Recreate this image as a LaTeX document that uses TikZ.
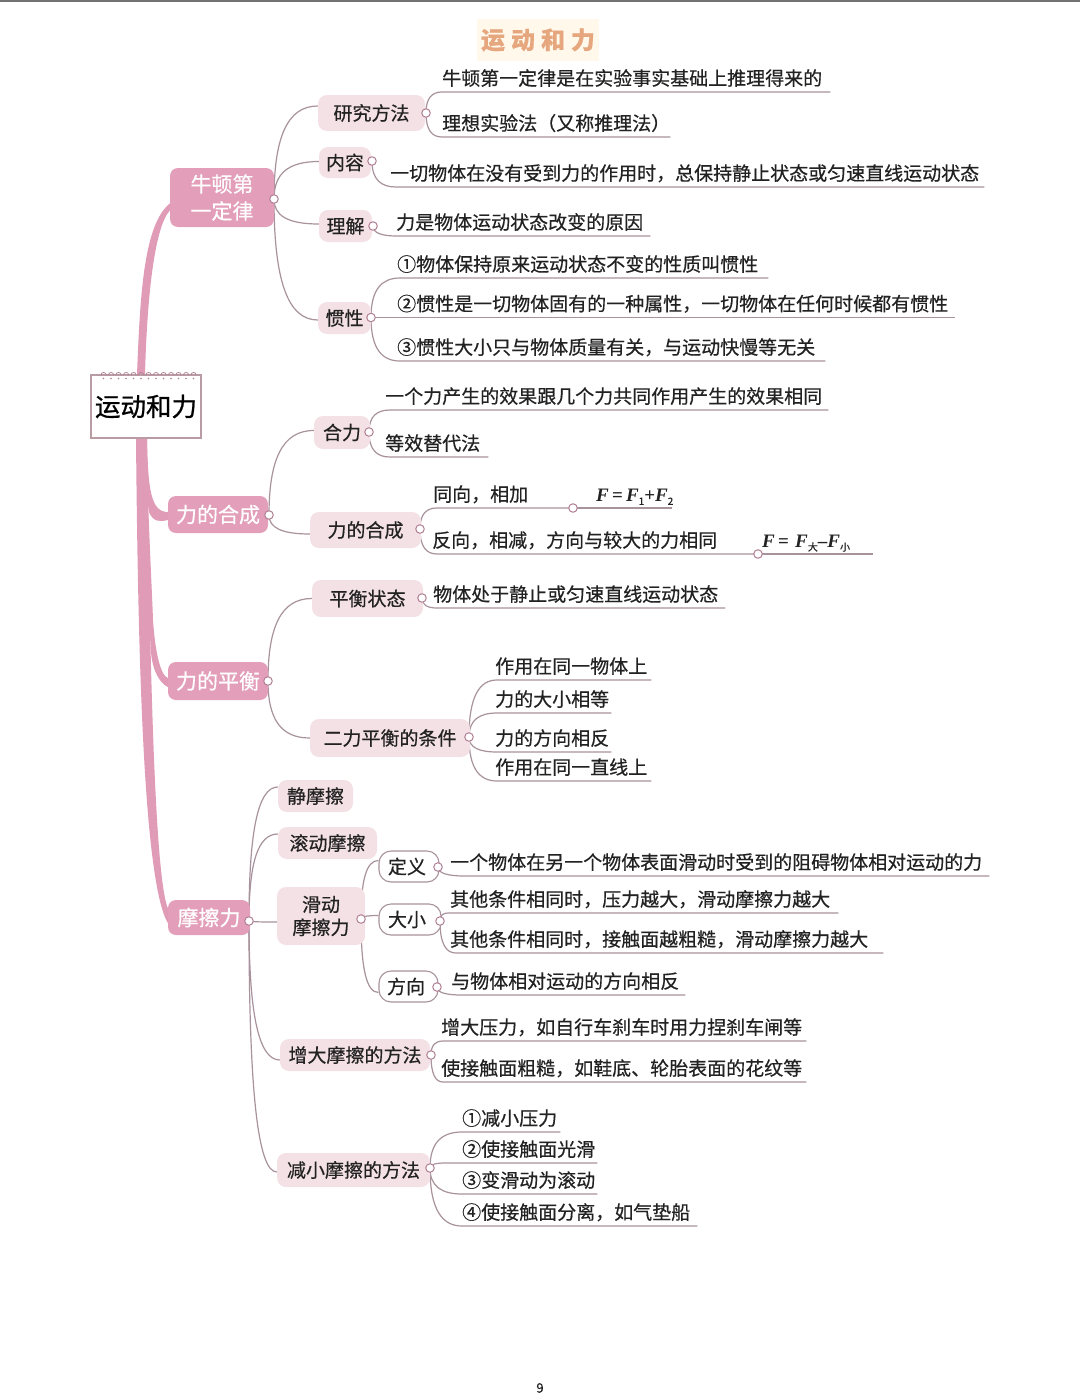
\documentclass[tikz,border=0pt]{standalone}
\usepackage{fontspec}
\setmainfont{Noto Sans CJK SC}[FakeBold=0.5]
\newfontfamily\fmfont{Liberation Serif}
\newfontfamily\rootfont{Noto Sans CJK SC}[FakeBold=0.9]
\usetikzlibrary{calc}
\definecolor{spine}{HTML}{E09BB7}
\definecolor{mainfill}{HTML}{E39EBA}
\definecolor{subfill}{HTML}{F4E1E6}
\definecolor{linec}{HTML}{A8929C}
\definecolor{portc}{HTML}{B07F93}
\definecolor{inkc}{HTML}{222222}
\definecolor{titlec}{HTML}{E6A77E}
\definecolor{titlebg}{HTML}{FFF8EB}
\pgfdeclarelayer{bg}
\pgfsetlayers{bg,main}
\tikzset{
  x=1pt,y=-1pt,
  conn/.style={draw=linec,line width=1.2pt},
  portdot/.style={circle,draw=portc,fill=white,line width=1pt,minimum size=8.5pt,inner sep=0},
  leafnode/.style={inner sep=0,anchor=south west,align=left,text=inkc,font=\fontsize{19}{20}\selectfont,text height=15pt,text depth=6.5pt},
  mainbox/.style={fill=mainfill,rounded corners=8pt,inner sep=0,text=white,align=center,font=\fontsize{21}{27}\selectfont},
  subbox/.style={fill=subfill,rounded corners=9pt,inner sep=0,text=inkc,align=center,font=\fontsize{19}{23}\selectfont},
  outbox/.style={fill=white,draw=linec,line width=1.1pt,rounded corners=12pt,inner sep=0,text=inkc,align=center,font=\fontsize{19}{23}\selectfont},
  taper/.style={fill=spine,draw=none}
}
% name, style, x0, x1, y0, y1, text
\newcommand{\boxat}[7]{%
  \pgfmathsetmacro\bcx{(#3+#4)/2}\pgfmathsetmacro\bcy{(#5+#6)/2}%
  \pgfmathsetmacro\bw{#4-#3}\pgfmathsetmacro\bh{#6-#5}%
  \node[#2,minimum width=\bw pt,minimum height=\bh pt] (#1) at (\bcx,\bcy) {#7};}
\newcommand{\portat}[3]{\node[portdot] (#1) at (#2,#3) {};}
% parent port, child box, upward offset at the west side
\newcommand{\branch}[3]{%
  \coordinate (tmpT) at ([yshift=#3pt]#2.west);
  \begin{pgfonlayer}{bg}
  \draw[conn] (#1.center) .. controls ($(#1.center)!0.66!(#1.center |- tmpT)$) and ($(tmpT)!0.7!(#1.center |- tmpT)$) .. (tmpT);
  \end{pgfonlayer}}
% name, port, x line start, x text, x end, y line, text
\newcommand{\leafitem}[7]{%
  \pgfmathsetmacro\lw{#5-#3}\pgfmathsetmacro\li{#4-#3}%
  \node[leafnode,text width=\lw pt] (#1) at (#3,#6) {\hspace*{\li pt}\mbox{#7}};
  \begin{pgfonlayer}{bg}
  \draw[conn] (#2.center) .. controls ($(#2.center)!0.72!(#2.center |- #1.south west)$) and ($(#1.south west)!0.62!(#2.center |- #1.south west)$) .. (#1.south west) -- (#1.south east);
  \end{pgfonlayer}}
\newcommand{\sbs}[1]{\raisebox{-3.5pt}{\fontsize{10}{11}\selectfont #1}}
\newcommand{\fF}{{\fmfont\bfseries\itshape F}}
\begin{document}
\begin{tikzpicture}
\useasboundingbox (0,0) rectangle (1080,1400);
\begin{pgfonlayer}{bg}
\fill[white] (0,0) rectangle (1080,1400);
\fill[black!55] (0,0) rectangle (1080,1.5);
\end{pgfonlayer}
% title and page number
\node[fill=titlebg,minimum width=122pt,minimum height=42pt,inner sep=0,text=titlec,font=\fontsize{24}{26}\selectfont\bfseries] (title) at (538,40) {运\hspace{6pt}动\hspace{6pt}和\hspace{6pt}力};
\node[font=\fontsize{13}{14}\selectfont,text=inkc] (pageno) at (540,1388) {9};
% root and main boxes
\boxat{m1}{mainbox}{170}{274}{168}{227}{牛顿第\\一定律}
\boxat{m2}{mainbox}{168}{268}{496}{533}{力的合成}
\boxat{m3}{mainbox}{168}{268}{662}{700}{力的平衡}
\boxat{m4}{mainbox}{168}{250}{900}{935}{摩擦力}
\boxat{root}{draw=linec!80!pink,line width=1.2pt,fill=white,inner sep=0,text=black,font=\fontsize{25.5}{28}\selectfont\rootfont}{91}{201}{375}{438}{运动和力}
\foreach \i in {0,...,12} {
  \draw[portc,line width=.7pt] (101+7.5*\i,375) arc[start angle=180,end angle=0,radius=2.6pt];
  \fill[portc] (103.5+7.5*\i,378.5) circle (.9pt);
}
\begin{pgfonlayer}{bg}
\fill[taper] ([xshift=-9pt]root.north) .. controls (140,300) and (143,225) .. ([yshift=-6pt]m1.west) -- ([yshift=-13pt]m1.west) .. controls (154,228) and (147,300) .. ([xshift=-1pt]root.north) -- cycle;
\fill[taper] ([xshift=1pt]root.south) .. controls (148,490) and (151,512) .. ([yshift=2.5pt]m2.west) -- ([yshift=-5.5pt]m2.west) .. controls (160,522) and (153,522) .. (149,512) -- ([xshift=-8pt]root.south) -- cycle;
\fill[taper] ([xshift=0pt]root.south) .. controls (149,540) and (152,590) .. (153,620) .. controls (155,650) and (160,675) .. ([yshift=3pt]m3.west) -- ([yshift=-6pt]m3.west) .. controls (160,683) and (153,672) .. (151,653) -- ([xshift=-8pt]root.south) -- cycle;
\fill[taper] ([xshift=-10pt]root.south) .. controls (138,650) and (143,880) .. ([yshift=-5.5pt]m4.west) -- ([yshift=9.5pt]m4.west) .. controls (156,880) and (150,700) .. ([xshift=1pt]root.south) -- cycle;
\end{pgfonlayer}
% level-two boxes
\boxat{s1}{subbox}{318}{425}{95}{131}{研究方法}
\boxat{s2}{subbox}{319}{371}{147}{178}{内容}
\boxat{s3}{subbox}{319}{372}{210}{242}{理解}
\boxat{s4}{subbox}{318}{371}{302}{334}{惯性}
\boxat{s5}{subbox}{314}{370}{416}{449}{合力}
\boxat{s6}{subbox}{310}{421}{512}{548}{力的合成}
\boxat{s7}{subbox}{312}{423}{580}{617}{平衡状态}
\boxat{s8}{subbox}{310}{470}{719}{757}{二力平衡的条件}
\boxat{s9}{subbox}{278}{353}{780}{812}{静摩擦}
\boxat{s10}{subbox}{278}{377}{827}{859}{滚动摩擦}
\boxat{s11}{subbox}{277}{365}{887}{945}{滑动\\摩擦力}
\boxat{s12}{subbox}{280}{430}{1039}{1071}{增大摩擦的方法}
\boxat{s13}{subbox}{277}{430}{1153}{1187}{减小摩擦的方法}
\boxat{t1}{outbox}{379}{439}{851}{882}{\kern-4pt 定义}
\boxat{t2}{outbox}{379}{441}{904}{935}{\kern-6pt 大小}
\boxat{t3}{outbox}{379}{438}{971}{1002}{\kern-5pt 方向}
% ports
\portat{pm1}{274}{199}\portat{pm2}{269}{515}\portat{pm3}{268}{681}\portat{pm4}{249}{921}
\portat{ps1}{426}{113}\portat{ps2}{372}{161}\portat{ps3}{373}{226}\portat{ps4}{371}{317.5}
\portat{ps5}{369}{432}\portat{ps6}{420}{529}\portat{ps7}{422}{598}\portat{ps8}{469}{737}
\portat{ps11}{361}{919}\portat{ps12}{431}{1055}\portat{ps13}{430}{1168}
\portat{pt1}{438}{867}\portat{pt2}{440}{921}\portat{pt3}{437}{987}
\portat{pf1}{573}{508}\portat{pf2}{758}{554}
% branches
\branch{pm1}{s1}{7}\branch{pm1}{s2}{1}\branch{pm1}{s3}{2}\branch{pm1}{s4}{-2}
\branch{pm2}{s5}{2}\branch{pm2}{s6}{-4}
\branch{pm3}{s7}{0}\branch{pm3}{s8}{0}
\branch{pm4}{s9}{9}\branch{pm4}{s10}{9}\branch{pm4}{s11}{-6}\branch{pm4}{s12}{-5}\branch{pm4}{s13}{-2}
\branch{ps11}{t1}{6}\branch{ps11}{t2}{4}\branch{ps11}{t3}{-6}
% leaves
\leafitem{a1}{ps1}{442}{442}{830}{92}{牛顿第一定律是在实验事实基础上推理得来的}
\leafitem{a2}{ps1}{442}{442}{670}{137}{理想实验法（又称推理法）}
\leafitem{a3}{ps2}{396}{390}{984}{187}{一切物体在没有受到力的作用时，总保持静止状态或匀速直线运动状态}
\leafitem{a4}{ps3}{397}{396}{650}{236}{力是物体运动状态改变的原因}
\leafitem{a5}{ps4}{400}{397}{768}{278}{①物体保持原来运动状态不变的性质叫惯性}
\leafitem{a6}{ps4}{397}{397}{955}{317.5}{②惯性是一切物体固有的一种属性，一切物体在任何时候都有惯性}
\leafitem{a7}{ps4}{400}{397}{825}{361}{③惯性大小只与物体质量有关，与运动快慢等无关}
\leafitem{b1}{ps5}{390}{385}{828}{410}{一个力产生的效果跟几个力共同作用产生的效果相同}
\leafitem{b2}{ps5}{390}{385}{488}{457}{等效替代法}
\leafitem{b3}{ps6}{437}{433}{573}{508}{同向，相加}
\leafitem{b4}{pf1}{573}{596}{672}{508}{\fF{\fmfont\bfseries\,=\,}\fF\sbs{1}{\fmfont\bfseries +}\fF\sbs{2}}
\leafitem{b5}{ps6}{437}{432}{758}{554}{反向，相减，方向与较大的力相同}
\leafitem{b6}{pf2}{758}{762}{873}{554}{\fF{\fmfont\bfseries\,=\ }\fF\sbs{大}{\fmfont\bfseries –}\fF\sbs{小}}
\leafitem{c1}{ps7}{437}{433}{725}{608}{物体处于静止或匀速直线运动状态}
\leafitem{c2}{ps8}{497}{495}{651}{680}{作用在同一物体上}
\leafitem{c3}{ps8}{497}{495}{611}{713}{力的大小相等}
\leafitem{c4}{ps8}{497}{495}{611}{752}{力的方向相反}
\leafitem{c5}{ps8}{497}{495}{651}{781}{作用在同一直线上}
\leafitem{d1}{pt1}{465}{450}{989}{876}{一个物体在另一个物体表面滑动时受到的阻碍物体相对运动的力}
\leafitem{d2}{pt2}{448}{450}{838}{913}{其他条件相同时，压力越大，滑动摩擦力越大}
\leafitem{d3}{pt2}{456}{450}{883}{953}{其他条件相同时，接触面越粗糙，滑动摩擦力越大}
\leafitem{d4}{pt3}{462}{451}{685}{995}{与物体相对运动的方向相反}
\leafitem{e1}{ps12}{443}{441}{806}{1041}{增大压力，如自行车刹车时用力捏刹车闸等}
\leafitem{e2}{ps12}{443}{441}{806}{1082}{使接触面粗糙，如鞋底、轮胎表面的花纹等}
\leafitem{f1}{ps13}{462}{462}{560}{1132}{①减小压力}
\leafitem{f2}{ps13}{445}{462}{597}{1163}{②使接触面光滑}
\leafitem{f3}{ps13}{462}{462}{597}{1194}{③变滑动为滚动}
\leafitem{f4}{ps13}{462}{462}{697}{1226}{④使接触面分离，如气垫船}
\end{tikzpicture}
\end{document}
